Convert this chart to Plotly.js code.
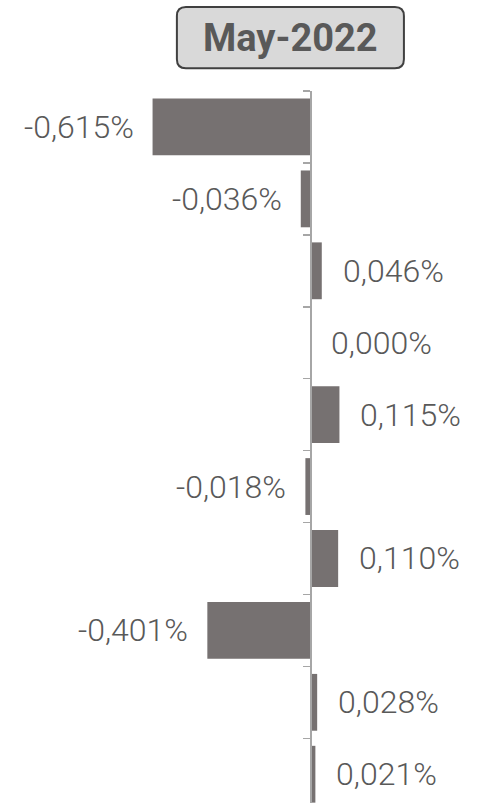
<!DOCTYPE html>
<html>
<head>
<meta charset="utf-8">
<script src="https://cdn.plot.ly/plotly-3.0.1.min.js"></script>
<style>html,body{margin:0;padding:0;background:#fff;}</style>
</head>
<body>
<div id="chart" style="width:482px;height:805px;"></div>
<script>
const chartTitle = "May-2022";
const categories = ["C1","C2","C3","C4","C5","C6","C7","C8","C9","C10"];
const values = [-0.615, -0.036, 0.046, 0.000, 0.115, -0.018, 0.110, -0.401, 0.028, 0.021];
const labels = values.map(v => v.toFixed(3).replace('.', ',') + '%');

const barColor = '#767171';
const textColor = '#595959';
const fontFam = 'Roboto, "Noto Sans", sans-serif';

const trace = {
  type: 'bar',
  orientation: 'h',
  y: categories,
  x: values,
  marker: {color: barColor},
  hoverinfo: 'skip'
};

const annotations = values.map((v, i) => ({
  x: v, y: categories[i], xref: 'x', yref: 'y',
  text: labels[i], showarrow: false,
  xanchor: v < 0 ? 'right' : 'left',
  xshift: v < 0 ? -17 : 19,
  yanchor: 'middle',
  font: {family: fontFam, size: 32, color: textColor, weight: 300}
}));

annotations.push({
  x: 0.603, y: 1.075, xref: 'paper', yref: 'paper',
  text: '<b>' + chartTitle + '</b>', showarrow: false,
  xanchor: 'center', yanchor: 'middle',
  font: {family: fontFam, size: 38, color: textColor}
});

// rounded title box (paper coords)
const bx0 = 0.367, bx1 = 0.838, by0 = 1.032, by1 = 1.118;
const rx = 9/482, ry = 9/712;
const boxPath = `M${bx0+rx},${by1} L${bx1-rx},${by1} Q${bx1},${by1} ${bx1},${by1-ry} ` +
  `L${bx1},${by0+ry} Q${bx1},${by0} ${bx1-rx},${by0} L${bx0+rx},${by0} ` +
  `Q${bx0},${by0} ${bx0},${by0+ry} L${bx0},${by1-ry} Q${bx0},${by1} ${bx0+rx},${by1} Z`;

const layout = {
  width: 482, height: 805,
  margin: {l: 0, r: 0, t: 91, b: 2, pad: 0},
  paper_bgcolor: '#ffffff', plot_bgcolor: '#ffffff',
  showlegend: false,
  bargap: 0.21,
  xaxis: {
    range: [-310/256, 172/256],
    showgrid: false, zeroline: false, showticklabels: false, ticks: '', showline: false
  },
  yaxis: {
    type: 'category',
    range: [9.4, -0.5],
    anchor: 'free', position: 310/482,
    showline: true, linecolor: '#a6a6a6', linewidth: 1.5,
    ticks: 'outside', tickson: 'boundaries', ticklen: 7, tickcolor: '#a6a6a6', tickwidth: 1.5,
    showticklabels: false, showgrid: false, zeroline: false
  },
  shapes: [{
    type: 'path', xref: 'paper', yref: 'paper', path: boxPath,
    fillcolor: '#d9d9d9', line: {color: '#404040', width: 2}, layer: 'below'
  }],
  annotations: annotations
};

Plotly.newPlot('chart', [trace], layout, {staticPlot: true, displayModeBar: false});
</script>
</body>
</html>
